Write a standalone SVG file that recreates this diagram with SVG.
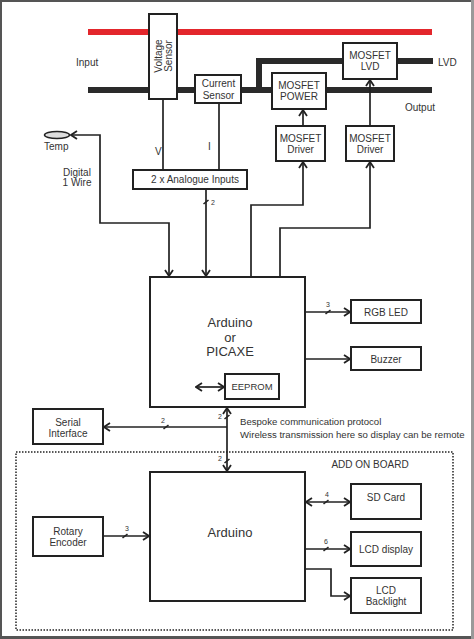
<svg xmlns="http://www.w3.org/2000/svg" width="474" height="639" viewBox="0 0 474 639">
<style>
text{font-family:"Liberation Sans",Arial,sans-serif;fill:#333;font-size:10px}
.box{fill:#fff;stroke:#222;stroke-width:2}
.c{fill:none;stroke:#222;stroke-width:1.7}
.rail{fill:none;stroke:#2a2a2a;stroke-width:6}
.red{fill:none;stroke:#e3262c;stroke-width:6}
.sl{stroke:#222;stroke-width:1.6}
.n{font-size:7px}
.m{text-anchor:middle}
.big{font-size:13px}
</style>
<defs>
<marker id="ar" viewBox="-8 -5 9 10" markerWidth="9" markerHeight="10" refX="0" refY="0" markerUnits="userSpaceOnUse" orient="auto-start-reverse">
<path d="M-6,-4 L0,0 L-6,4" fill="none" stroke="#222" stroke-width="1.8"/>
</marker>
</defs>
<rect x="0" y="0" width="474" height="639" fill="#fff"/>
<g id="frame">
<line x1="1" y1="0" x2="1" y2="639" stroke="#555" stroke-width="2"/>
<line x1="0" y1="1" x2="474" y2="1" stroke="#555" stroke-width="2"/>
<line x1="0" y1="637.5" x2="474" y2="637.5" stroke="#555" stroke-width="3"/>
<line x1="472.5" y1="0" x2="472.5" y2="639" stroke="#999" stroke-width="3"/>
</g>
<g id="rails">
<line class="red" x1="88" y1="32" x2="432" y2="32"/>
<path class="rail" d="M88,90 H432"/>
<path class="rail" d="M259,90 V61 H343"/>
<path class="rail" d="M397,61 H433"/>
</g>
<g id="voltage-sensor">
<rect class="box" x="149" y="14" width="28" height="85"/>
<text class="m" transform="translate(163,56) rotate(-90)"><tspan x="0" y="-1">Voltage</tspan><tspan x="0" y="9">Sensor</tspan></text>
</g>
<g id="current-sensor">
<rect class="box" x="195" y="75" width="46" height="28"/>
<text class="m" x="218.5" y="87">Current</text>
<text class="m" x="218.5" y="99">Sensor</text>
</g>
<g id="mosfet-power">
<rect class="box" x="272" y="73" width="54" height="36"/>
<text class="m" x="299" y="89">MOSFET</text>
<text class="m" x="299" y="100">POWER</text>
</g>
<g id="mosfet-lvd">
<rect class="box" x="343" y="43" width="54" height="36"/>
<text class="m" x="370" y="59">MOSFET</text>
<text class="m" x="370" y="70">LVD</text>
</g>
<g id="mosfet-driver-1">
<rect class="box" x="276" y="126" width="49" height="35"/>
<text class="m" x="300.5" y="142">MOSFET</text>
<text class="m" x="300.5" y="153">Driver</text>
</g>
<g id="mosfet-driver-2">
<rect class="box" x="346" y="126" width="48" height="35"/>
<text class="m" x="370" y="142">MOSFET</text>
<text class="m" x="370" y="153">Driver</text>
</g>
<g id="analogue-inputs">
<rect class="box" x="133" y="170" width="114" height="19"/>
<text class="m" x="195" y="183">2 x Analogue Inputs</text>
</g>
<g id="temp">
<ellipse cx="57" cy="135" rx="12.5" ry="3.5" fill="#ddd" stroke="#222" stroke-width="1.5"/>
<text x="44" y="150">Temp</text>
</g>
<g id="labels">
<text x="76" y="66">Input</text>
<text x="405" y="111">Output</text>
<text x="438" y="66">LVD</text>
<text x="155" y="155">V</text>
<text x="208" y="150">I</text>
<text class="m" x="77" y="176">Digital</text>
<text class="m" x="77" y="186">1 Wire</text>
<text x="240" y="425" style="font-size:9.6px">Bespoke communication protocol</text>
<text x="240" y="438" style="font-size:9.6px">Wireless transmission here so display can be remote</text>
</g>
<g id="arduino-main">
<rect class="box" x="150" y="277" width="155" height="130"/>
<text class="m big" x="230" y="327">Arduino</text>
<text class="m big" x="230" y="342">or</text>
<text class="m big" x="230" y="356">PICAXE</text>
</g>
<g id="eeprom">
<rect class="box" x="225" y="374" width="54" height="25"/>
<text class="m" x="252" y="390" style="font-size:9.5px">EEPROM</text>
</g>
<g id="rgb-led">
<rect class="box" x="351" y="300" width="70" height="23"/>
<text class="m" x="386" y="316">RGB LED</text>
</g>
<g id="buzzer">
<rect class="box" x="351" y="347" width="70" height="23"/>
<text class="m" x="386" y="363">Buzzer</text>
</g>
<g id="serial-interface">
<rect class="box" x="33" y="409" width="70" height="35"/>
<text class="m" x="68" y="426">Serial</text>
<text class="m" x="68" y="437">Interface</text>
</g>
<g id="add-on-board">
<rect x="16" y="452" width="437" height="178" fill="none" stroke="#222" stroke-width="1.5" stroke-dasharray="1.5 1.5"/>
<text class="m" x="370" y="468">ADD ON BOARD</text>
</g>
<g id="arduino-addon">
<rect class="box" x="150" y="472" width="155" height="129"/>
<text class="m big" x="230" y="537">Arduino</text>
</g>
<g id="rotary-encoder">
<rect class="box" x="33" y="517" width="70" height="39"/>
<text class="m" x="68" y="535">Rotary</text>
<text class="m" x="68" y="546">Encoder</text>
</g>
<g id="sd-card">
<rect class="box" x="351" y="484" width="70" height="35"/>
<text class="m" x="386" y="501">SD Card</text>
</g>
<g id="lcd-display">
<rect class="box" x="351" y="532" width="70" height="34"/>
<text class="m" x="386" y="553">LCD display</text>
</g>
<g id="lcd-backlight">
<rect class="box" x="351" y="578" width="70" height="35"/>
<text class="m" x="386" y="594">LCD</text>
<text class="m" x="386" y="605">Backlight</text>
</g>
<g id="connectors">
<path class="c" d="M163,99 V170"/>
<path class="c" d="M219,103 V170"/>
<path class="c" d="M206,189 V276" marker-end="url(#ar)"/>
<line class="sl" x1="203.5" y1="204" x2="208.5" y2="200"/>
<path class="c" d="M71,135 H100 V223 H169 V276" marker-start="url(#ar)" marker-end="url(#ar)"/>
<path class="c" d="M251,277 V205 H303 V162" marker-end="url(#ar)"/>
<path class="c" d="M280,277 V228 H370 V162" marker-end="url(#ar)"/>
<path class="c" d="M303,126 V110" marker-end="url(#ar)"/>
<path class="c" d="M370,126 V80" marker-end="url(#ar)"/>
<path class="c" d="M196,387 H224" marker-start="url(#ar)" marker-end="url(#ar)"/>
<path class="c" d="M305,312 H350" marker-end="url(#ar)"/>
<line class="sl" x1="325.5" y1="314" x2="330.5" y2="310"/>
<path class="c" d="M305,359 H350" marker-end="url(#ar)"/>
<path class="c" d="M227,408 V471" marker-start="url(#ar)" marker-end="url(#ar)"/>
<line class="sl" x1="224.5" y1="419" x2="229.5" y2="415"/>
<line class="sl" x1="224.5" y1="463" x2="229.5" y2="459"/>
<path class="c" d="M227,427 H104" marker-end="url(#ar)"/>
<line class="sl" x1="163.5" y1="429" x2="168.5" y2="425"/>
<path class="c" d="M103,536 H149" marker-end="url(#ar)"/>
<line class="sl" x1="122.5" y1="538" x2="127.5" y2="534"/>
<path class="c" d="M306,502 H350" marker-start="url(#ar)" marker-end="url(#ar)"/>
<line class="sl" x1="323.5" y1="504" x2="328.5" y2="500"/>
<path class="c" d="M305,549 H350" marker-end="url(#ar)"/>
<line class="sl" x1="323.5" y1="551" x2="328.5" y2="547"/>
<path class="c" d="M305,569 H331 V596 H350" marker-end="url(#ar)"/>
<text class="n" x="211" y="205">2</text>
<text class="n" x="326" y="307">3</text>
<text class="n" x="222" y="419" text-anchor="end">2</text>
<text class="n" x="222" y="461" text-anchor="end">2</text>
<text class="n m" x="163" y="423">2</text>
<text class="n" x="125" y="531">3</text>
<text class="n" x="325" y="497">4</text>
<text class="n" x="324" y="544">6</text>
</g>
</svg>
